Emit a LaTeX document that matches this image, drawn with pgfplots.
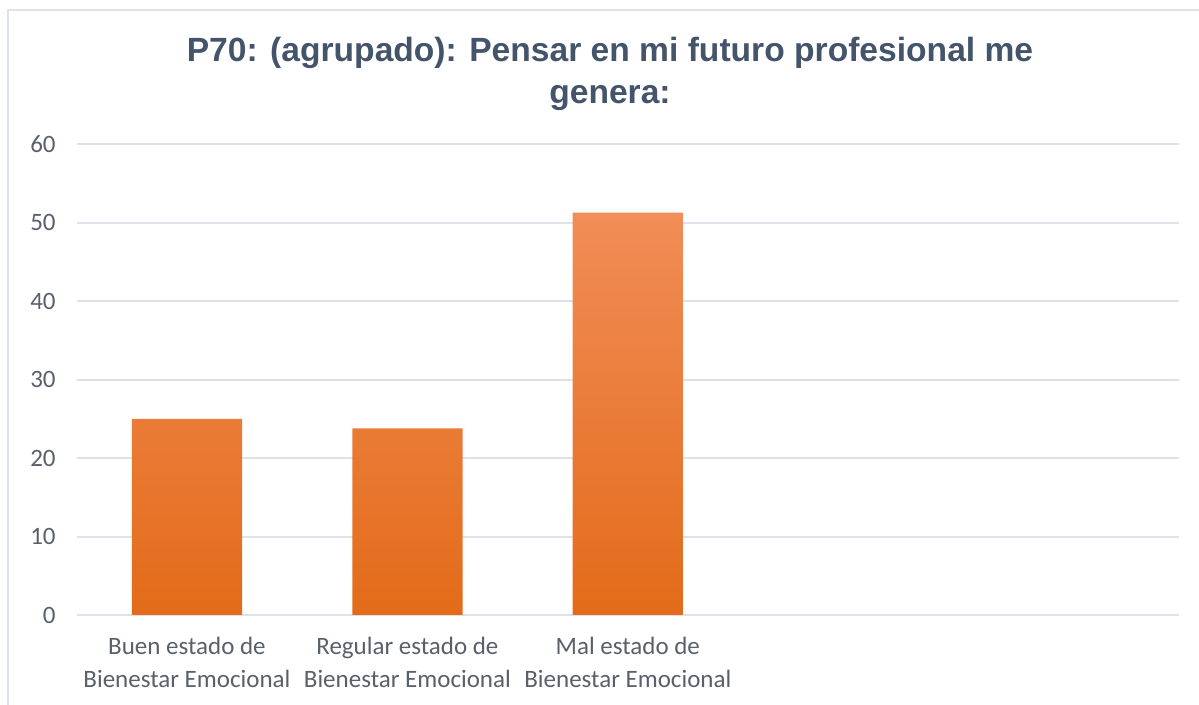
\documentclass[border=0pt]{standalone}
\usepackage{pgfplots}
\pgfplotsset{compat=1.18}
\usepackage{fontspec}
\setmainfont{Carlito}
\newfontfamily\titlefont{Liberation Sans}
\definecolor{titlecol}{HTML}{44546A}
\definecolor{tickcol}{HTML}{595F6B}
\definecolor{gridcol}{HTML}{DDE2EA}
\definecolor{bordercol}{HTML}{DDE3EA}
\definecolor{otop}{HTML}{F18D57}
\definecolor{omid}{HTML}{F6802C}
\definecolor{obot}{HTML}{E36B19}
\begin{document}
\begin{tikzpicture}
\useasboundingbox (0,0) rectangle (599.5pt,352.5pt);
\draw[bordercol, line width=1pt] (4pt,0) -- (4pt,347.5pt) -- (599.5pt,347.5pt);
\node[align=center, font=\titlefont\bfseries\fontsize{16.8}{21}\selectfont, text=titlecol] at (305pt,315.5pt)
  {P70: (agrupado): Pensar en mi futuro profesional me\\genera:};
\begin{axis}[
  at={(38.35pt,45pt)}, anchor=south west,
  scale only axis, width=551.15pt, height=235.35pt,
  xmin=-0.5, xmax=4.5, ymin=0, ymax=60,
  ytick={0,10,...,60},
  xtick={0,1,2},
  xticklabels={{Buen estado de\\Bienestar Emocional},{Regular estado de\\Bienestar Emocional},{Mal estado de\\Bienestar Emocional}},
  xticklabel style={align=center, font=\fontsize{12.5}{16.5}\selectfont, text=tickcol, yshift=-7.5pt},
  yticklabel style={font=\fontsize{12.5}{14}\selectfont, text=tickcol, xshift=-7pt},
  /pgf/number format/assume math mode=true,
  major tick length=0pt,
  axis x line=bottom, axis y line=left,
  x axis line style={draw=gridcol, line width=1pt, -},
  y axis line style={draw=none},
  ymajorgrids, grid style={draw=gridcol, line width=1pt},
  ybar, bar width=0.5,
  clip=false,
]
\addplot[draw=none, top color=otop, middle color=omid, bottom color=obot] coordinates {(0,25) (1,23.8) (2,51.3)};
\end{axis}
\end{tikzpicture}
\end{document}
